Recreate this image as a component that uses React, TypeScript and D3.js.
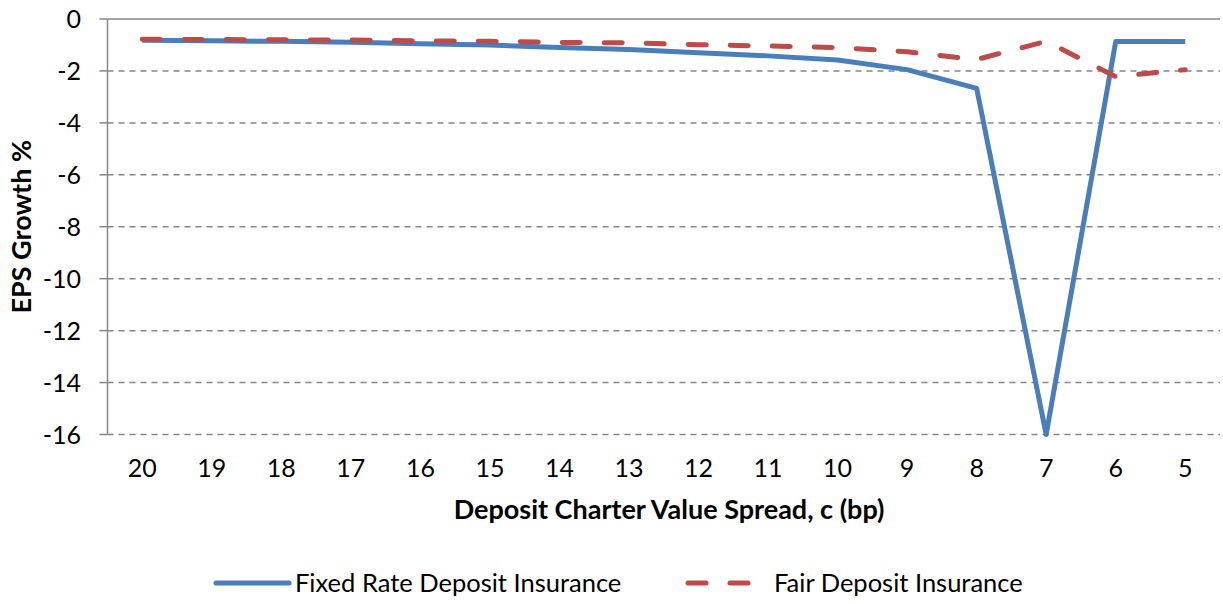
import { scaleBand, scaleLinear, line } from "d3"

const categories = ["20", "19", "18", "17", "16", "15", "14", "13", "12", "11", "10", "9", "8", "7", "6", "5"]
const fixedRate = [-0.82, -0.84, -0.86, -0.9, -0.95, -1.0, -1.1, -1.17, -1.3, -1.42, -1.58, -1.95, -2.67, -16, -0.87, -0.87]
const fairRate = [-0.78, -0.79, -0.8, -0.81, -0.84, -0.86, -0.9, -0.92, -0.99, -1.04, -1.1, -1.26, -1.56, -0.86, -2.22, -1.95]
const yTicks = [0, -2, -4, -6, -8, -10, -12, -14, -16]

const FONT = "Lato, 'Open Sans', sans-serif"
const BLUE = "#4A7EBB"
const RED = "#BE4B48"
const GRID = "#868686"

export default function App() {
  const width = 1223
  const height = 604
  const MARGIN = { left: 107.5, top: 19, right: 3, bottom: 170 }
  const plotRight = width - MARGIN.right
  const plotBottom = height - MARGIN.bottom + 0.5

  const xScale = scaleBand<string>()
    .domain(categories)
    .range([MARGIN.left, plotRight])
  const yScale = scaleLinear()
    .domain([-16, 0])
    .range([plotBottom, MARGIN.top])

  const xCenter = (c: string) => (xScale(c) ?? 0) + xScale.bandwidth() / 2
  const lineGen = line<number>()
    .x((_, i) => xCenter(categories[i]))
    .y((d) => yScale(d))

  return (
    <svg
      width={width}
      height={height}
      style={{ position: "absolute", left: 0, top: 0, background: "#fff" }}
      fontFamily={FONT}
    >
      {yTicks.map((t) => (
        <g key={t}>
          <line
            x1={MARGIN.left}
            x2={plotRight}
            y1={yScale(t)}
            y2={yScale(t)}
            stroke={GRID}
            strokeWidth={1.5}
            strokeDasharray={t === 0 ? undefined : "6,5"}
          />
          <line x1={MARGIN.left - 8} x2={MARGIN.left} y1={yScale(t)} y2={yScale(t)} stroke={GRID} strokeWidth={1.5} />
          <text x={81} y={yScale(t) + 9} textAnchor="end" fontSize={25} fill="#000">
            {t}
          </text>
        </g>
      ))}
      <line x1={MARGIN.left} x2={MARGIN.left} y1={MARGIN.top} y2={plotBottom} stroke={GRID} strokeWidth={1.5} />

      {categories.map((c) => (
        <text key={c} x={xCenter(c)} y={477} textAnchor="middle" fontSize={25} fill="#000">
          {c}
        </text>
      ))}

      <path d={lineGen(fixedRate) ?? ""} fill="none" stroke={BLUE} strokeWidth={5} strokeLinejoin="round" />
      <path
        d={lineGen(fairRate) ?? ""}
        fill="none"
        stroke={RED}
        strokeWidth={5}
        strokeDasharray="18,24"
        strokeLinecap="round"
        strokeLinejoin="round"
      />

      <text x={669} y={519} textAnchor="middle" fontSize={27} fontWeight={700} fill="#000">
        Deposit Charter Value Spread, c (bp)
      </text>
      <text
        transform={`translate(31,${(MARGIN.top + plotBottom) / 2}) rotate(-90)`}
        textAnchor="middle"
        fontSize={27}
        fontWeight={700}
        fill="#000"
      >
        EPS Growth %
      </text>

      <g>
        <line x1={216} x2={289} y1={583} y2={583} stroke={BLUE} strokeWidth={5} strokeLinecap="round" />
        <text x={295} y={592} fontSize={25.5} fill="#000">Fixed Rate Deposit Insurance</text>
        <line
          x1={688}
          x2={752}
          y1={583}
          y2={583}
          stroke={RED}
          strokeWidth={5}
          strokeLinecap="round"
          strokeDasharray="18,24"
        />
        <text x={774} y={592} fontSize={25.5} fill="#000">Fair Deposit Insurance</text>
      </g>
    </svg>
  )
}
